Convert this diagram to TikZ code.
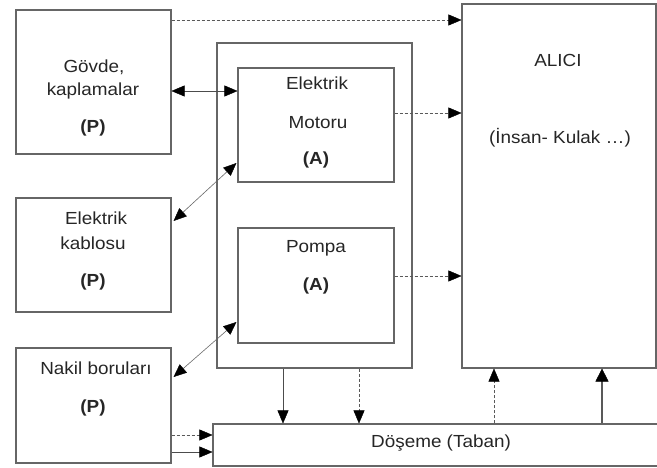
\documentclass[tikz,border=0pt]{standalone}
\usepackage{fontspec}
\setmainfont[FakeStretch=1.08]{Liberation Sans}
\usetikzlibrary{arrows.meta}
\begin{document}
\begin{tikzpicture}[x=1pt,y=-1pt,
  box/.style={draw=black!60,line width=1.1pt,inner sep=0pt,minimum width=#1},
  lbl/.style={font=\fontsize{17.5}{19}\selectfont,text=black!85,inner sep=0pt},
  blbl/.style={lbl,font=\fontsize{17.5}{19}\selectfont\bfseries},
  onetip/.style={-{Triangle[length=13pt,width=11pt,color=black,line width=0.4pt]}},
  twotip/.style={{Triangle[length=13pt,width=11pt,color=black,line width=0.4pt]}-{Triangle[length=13pt,width=11pt,color=black,line width=0.4pt]}},
  dashln/.style={draw=black!65,line width=0.8pt,dash pattern=on 3pt off 2pt},
  thinln/.style={draw=black!70,line width=0.8pt}]
\useasboundingbox (0,0) rectangle (657,468);
% boxes
\node[box=155pt,minimum height=144pt] (govde) at (93.5,82) {};
\node[box=195pt,minimum height=325pt] (outer) at (314.5,205.5) {};
\node[box=156pt,minimum height=114pt] (motor) at (316,125) {};
\node[box=194pt,minimum height=364pt] (alici) at (559,186) {};
\node[box=155pt,minimum height=114pt] (kablo) at (93.5,255) {};
\node[box=156pt,minimum height=115pt] (pompa) at (316,285.5) {};
\node[box=155pt,minimum height=115pt] (nakil) at (93.5,405.5) {};
\node[box=447pt,minimum height=42pt] (doseme) at (436.5,445) {};
% texts
\node[lbl] (t1) at (94,67) {Gövde,};
\node[lbl] (t2) at (93,91) {kaplamalar};
\node[blbl] (t3) at (93,128) {(P)};
\node[lbl] (t4) at (317,83) {Elektrik};
\node[lbl] (t5) at (318,123) {Motoru};
\node[blbl] (t6) at (316,160) {(A)};
\node[lbl] (t7) at (558,60) {ALICI};
\node[lbl] (t8) at (560,138) {(İnsan- Kulak …)};
\node[lbl] (t9) at (96,218) {Elektrik};
\node[lbl] (t10) at (93,243) {kablosu};
\node[blbl] (t11) at (93,282) {(P)};
\node[lbl] (t12) at (316,248) {Pompa};
\node[blbl] (t13) at (316,286) {(A)};
\node[lbl] (t14) at (96,368) {Nakil boruları};
\node[blbl] (t15) at (93,408) {(P)};
\node[lbl] (t16) at (441,443) {Döşeme (Taban)};
% horizontal connectors
\draw[dashln,onetip] ([yshift=62pt]govde.east) -- ([yshift=166pt]alici.west);
\draw[thinln,twotip] ([yshift=-9pt]govde.east) -- ([yshift=34pt]motor.west);
\draw[dashln,onetip] ([yshift=12pt]motor.east) -- ([yshift=73pt]alici.west);
\draw[dashln,onetip] ([yshift=9.5pt]pompa.east) -- ([yshift=-90pt]alici.west);
\draw[dashln,onetip] ([yshift=-29.5pt]nakil.east) -- ([yshift=10pt]doseme.west);
\draw[thinln,onetip] ([yshift=-46.5pt]nakil.east) -- ([yshift=-7pt]doseme.west);
% diagonal connectors
\draw[draw=black!60,line width=0.6pt,twotip] ([yshift=-38pt,xshift=-1pt]motor.west) -- ([yshift=34pt,xshift=2pt]kablo.east);
\draw[draw=black!60,line width=0.6pt,twotip] ([yshift=-36.5pt,xshift=-1pt]pompa.west) -- ([yshift=28.5pt,xshift=2pt]nakil.east);
% vertical connectors
\draw[thinln,onetip] ([xshift=-31.5pt]outer.south) -- ([xshift=-31.5pt]outer.south |- doseme.north);
\draw[dashln,onetip] ([xshift=44.5pt]outer.south) -- ([xshift=44.5pt]outer.south |- doseme.north);
\draw[dashln,onetip] ([xshift=-65pt]alici.south |- doseme.north) -- ([xshift=-65pt]alici.south);
\draw[draw=black!65,line width=2.2pt,-{Triangle[length=13pt,width=13pt,color=black,line width=0.4pt]}] ([xshift=43pt]alici.south |- doseme.north) -- ([xshift=43pt]alici.south);
\end{tikzpicture}
\end{document}
